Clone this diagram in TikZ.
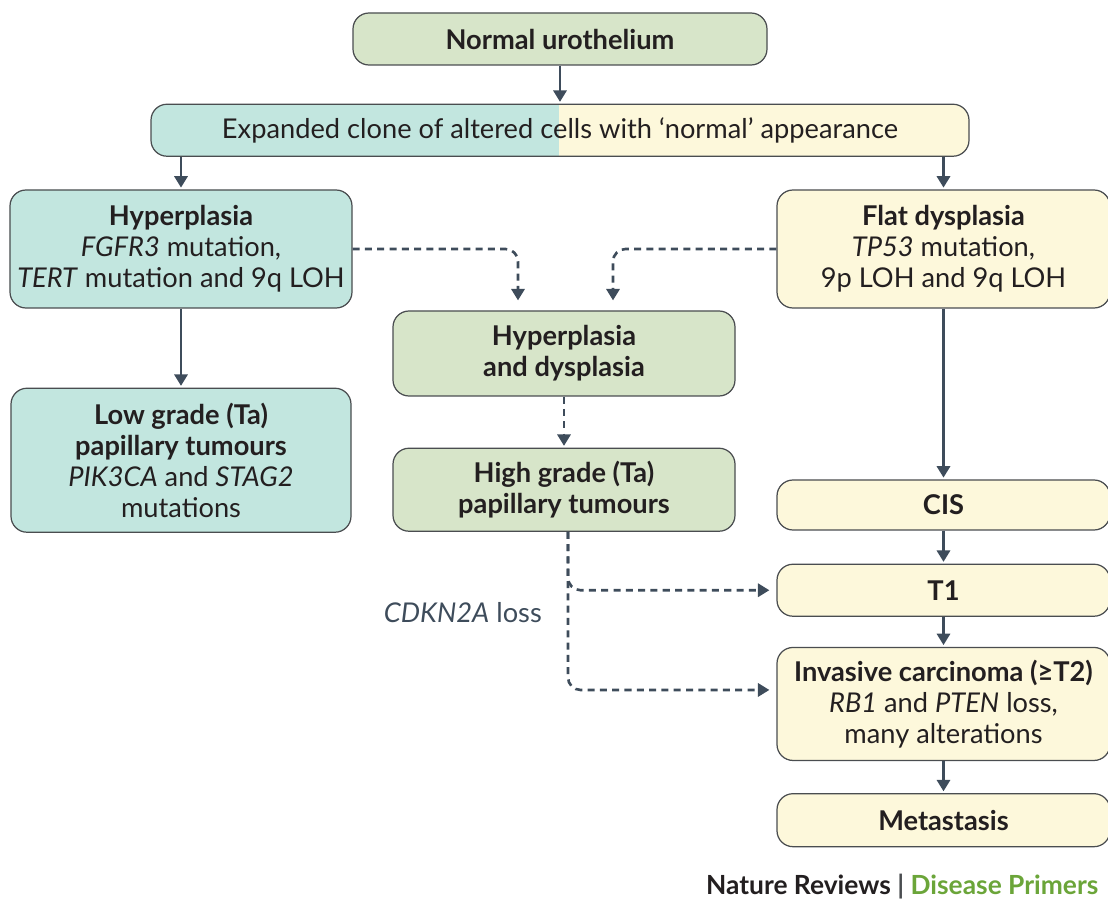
\documentclass[tikz,border=0pt]{standalone}
\usepackage{fontspec}
\setmainfont{Lato}
\usetikzlibrary{positioning}
\usetikzlibrary{arrows.meta}
\definecolor{tealbox}{HTML}{C2E6DF}
\definecolor{greenbox}{HTML}{D7E5C9}
\definecolor{creambox}{HTML}{FDF8DB}
\definecolor{edgegray}{HTML}{4A4D50}
\definecolor{arrowslate}{HTML}{3E4C5B}
\definecolor{inktext}{HTML}{231F20}
\definecolor{primergreen}{HTML}{6BA539}
\tikzset{
st/.style={
  rectangle,
  rounded corners=0.32cm,
  inner sep=0pt,
  align=center,
  draw=edgegray,
  line width=0.7pt,
  text=inktext,
  font=\fontsize{15.5}{17.6}\selectfont
  },
flow/.style={
  draw=arrowslate,
  line width=1.5pt,
  shorten >=1pt,
  -{Triangle[width=7.5pt,length=6.5pt]}
  },
dflow/.style={
  flow,
  dash pattern=on 4pt off 3pt,
  rounded corners=0.25cm
  }
}
\begin{document}
\begin{tikzpicture}
  \useasboundingbox (0,0) rectangle (22.16,-18.02);
  % top of the tree
  \node[st,fill=greenbox,minimum width=8.28cm,minimum height=1.04cm] (normal) at (11.2,-0.78) {\textbf{Normal urothelium}};
  \node[st,fill=creambox,minimum width=16.36cm,minimum height=1.04cm,
        path picture={\fill[tealbox,sharp corners] (path picture bounding box.south west) rectangle ([xshift=-0.02cm]path picture bounding box.north);}]
        (clone) [below=0.76cm of normal] {Expanded clone of altered cells with `normal' appearance};
  % left branch
  \node[st,fill=tealbox,minimum width=6.84cm,minimum height=2.36cm] (hyper) at (3.62,-4.98) {\textbf{Hyperplasia}\\\textit{FGFR3} mutation,\\\textit{TERT} mutation and 9q LOH};
  \node[st,fill=tealbox,minimum width=6.8cm,minimum height=2.88cm] (lowgrade) [below=1.58cm of hyper] {\textbf{Low grade (Ta)}\\\textbf{papillary tumours}\\\textit{PIK3CA} and \textit{STAG2}\\mutations};
  % middle branch
  \node[st,fill=greenbox,minimum width=6.84cm,minimum height=1.7cm] (hypdys) at (11.28,-7.07) {\textbf{Hyperplasia}\\\textbf{and dysplasia}};
  \node[st,fill=greenbox,minimum width=6.84cm,minimum height=1.66cm] (highgrade) [below=1.02cm of hypdys] {\textbf{High grade (Ta)}\\\textbf{papillary tumours}};
  % right branch
  \node[st,fill=creambox,minimum width=6.66cm,minimum height=2.36cm] (flat) at (18.87,-4.98) {\textbf{Flat dysplasia}\\\textit{TP53} mutation,\\9p LOH and 9q LOH};
  \node[st,fill=creambox,minimum width=6.66cm,minimum height=1.0cm] (cis) at (18.87,-10.1) {\textbf{CIS}};
  \node[st,fill=creambox,minimum width=6.66cm,minimum height=1.04cm] (tone) [below=0.66cm of cis] {\textbf{T1}};
  \node[st,fill=creambox,minimum width=6.66cm,minimum height=2.26cm] (invasive) [below=0.6cm of tone] {\textbf{Invasive carcinoma (≥T2)}\\\textit{RB1} and \textit{PTEN} loss,\\many alterations};
  \node[st,fill=creambox,minimum width=6.66cm,minimum height=1.06cm] (meta) [below=0.64cm of invasive] {\textbf{Metastasis}};
  % label and footer
  \node[anchor=east,text=arrowslate,font=\fontsize{15.5}{17.6}\selectfont] (cdkn) at (10.96,-12.26) {\textit{CDKN2A} loss};
  \node[anchor=west,text=inktext,font=\bfseries\fontsize{15}{18}\selectfont] (footer) at (14.0,-17.74) {Nature Reviews \textcolor{edgegray}{|} \textcolor{primergreen}{Disease Primers}};
  % solid arrows
  \draw[flow] (normal) -- (clone);
  \draw[flow] (hyper |- clone.south) -- (hyper);
  \draw[flow] (flat |- clone.south) -- (flat);
  \draw[flow] (hyper) -- (lowgrade);
  \draw[flow] (flat) -- (cis);
  \draw[flow] (cis) -- (tone);
  \draw[flow] (tone) -- (invasive);
  \draw[flow] (invasive) -- (meta);
  % dashed arrows
  \draw[dflow,shorten >=0.2cm] (hyper.east) -| ([xshift=-0.92cm]hypdys.north);
  \draw[dflow,shorten >=0.2cm] (flat.west) -| ([xshift=0.98cm]hypdys.north);
  \draw[dflow] (hypdys) -- (highgrade);
  \draw[dflow,shorten >=0.14cm] ([xshift=0.08cm]highgrade.south) |- (tone.west);
  \draw[dflow,shorten >=0.14cm] ([xshift=0.08cm]highgrade.south) |- ([yshift=0.28cm]invasive.west);
\end{tikzpicture}
\end{document}
